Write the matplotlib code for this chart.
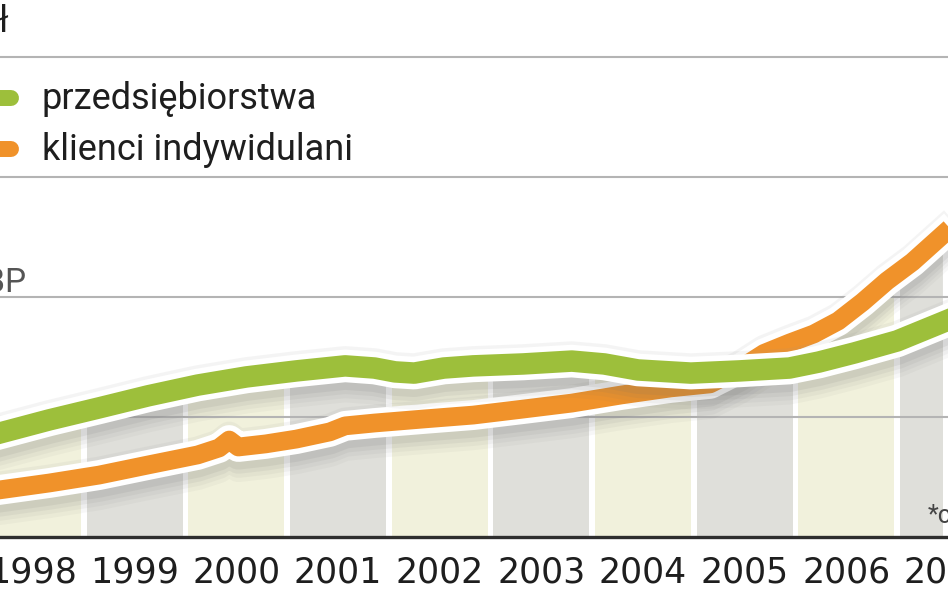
import numpy as np
import matplotlib
matplotlib.use("Agg")
import matplotlib.pyplot as plt
import matplotlib.patheffects as pe
from matplotlib.patches import Polygon
from matplotlib.lines import Line2D

# Kredyty (mld zl)
green_t = [1998.10, 1998.66, 1999.15, 1999.63, 2000.12, 2000.60, 2001.09, 2001.57,
           2001.86, 2002.06, 2002.25, 2002.54, 2002.83, 2003.32, 2003.80, 2004.12,
           2004.45, 2004.97, 2005.45, 2005.94, 2006.23, 2006.58, 2007.00, 2007.45]
green_v = [42.5, 48.8, 53.8, 58.8, 63.3, 66.7, 69.2, 71.3,
           70.4, 68.8, 68.3, 70.4, 71.3, 72.1, 73.3, 72.1,
           69.6, 68.3, 69.2, 70.4, 72.9, 76.7, 81.7, 89.5]

orange_t = [1998.10, 1998.66, 1999.15, 1999.63, 2000.12, 2000.33, 2000.43, 2000.52,
            2000.79, 2001.09, 2001.42, 2001.57, 2001.86, 2002.35, 2002.83, 2003.32,
            2003.80, 2004.29, 2004.77, 2005.16, 2005.45, 2005.69, 2005.94, 2006.18,
            2006.42, 2006.66, 2006.90, 2007.15, 2007.45]
orange_v = [19.2, 22.5, 25.8, 30.0, 34.2, 37.1, 40.4, 37.5,
            38.8, 40.8, 43.8, 46.3, 47.5, 49.2, 50.8, 53.3,
            55.8, 59.2, 62.1, 63.8, 70.0, 76.5, 80.8, 84.6,
            90.0, 97.9, 106.7, 114.6, 126.0]

years = [1998, 1999, 2000, 2001, 2002, 2003, 2004, 2005, 2006, 2007]
year_labels = [str(y) for y in years]
grid_vals = [50, 100, 150, 200]

GREEN = "#9dbf3b"
ORANGE = "#f0922a"
CREAM = "#f1f1dc"
GRAY = "#dfdfda"

W, H = 948, 593
fig = plt.figure(figsize=(W / 100, H / 100), dpi=100)
fig.patch.set_facecolor("white")
ax = fig.add_axes([0, (H - 537) / H, 1, 537 / H])
ax.set_xlim(1998.1756, 2007.3705)
ax.set_ylim(0, 537 * 50 / 120)
ax.set_facecolor("white")
for s in ["top", "right", "left"]:
    ax.spines[s].set_visible(False)
ax.spines["bottom"].set_color("#2e2e2e")
ax.spines["bottom"].set_linewidth(2.4)
ax.spines["bottom"].set_zorder(10)
ax.set_yticks([])

# kolumny lat, przyciete do obszaru pod krzywymi
col_colors = [CREAM if i % 2 == 0 else GRAY for i in range(len(years))]
for tt, vv in [(green_t, green_v), (orange_t, orange_v)]:
    poly = Polygon(list(zip(tt, vv)) + [(tt[-1], 0), (tt[0], 0)],
                   closed=True, transform=ax.transData, facecolor="none", edgecolor="none")
    ax.add_patch(poly)
    bars = ax.bar([y + 0.5 for y in years], 300, width=0.945, color=col_colors, zorder=1)
    for b in bars:
        b.set_clip_path(poly)

for g in grid_vals:
    ax.axhline(g, color="#b4b4b4", lw=1.5, zorder=2)

def band_effects(lw):
    eff = []
    for d, a in [(15, 0.05), (12, 0.06), (9, 0.08), (6, 0.10)]:
        eff.append(pe.SimpleLineShadow(offset=(0, -d), shadow_color="#6e6e6e",
                                       alpha=a, linewidth=lw + 7))
    eff.append(pe.SimpleLineShadow(offset=(0, 3), shadow_color="#9a9a9a",
                                   alpha=0.10, linewidth=lw + 7))
    eff.append(pe.Stroke(linewidth=lw + 8, foreground="white"))
    eff.append(pe.Normal())
    return eff

ax.plot(orange_t, orange_v, color=ORANGE, lw=13.5, solid_joinstyle="round",
        path_effects=band_effects(13.5), zorder=4)
ax.plot(green_t, green_v, color=GREEN, lw=15.5, solid_joinstyle="round",
        path_effects=band_effects(15.5), zorder=5)

ax.set_xticks([y + 0.5 for y in years])
ax.set_xticklabels(year_labels, fontsize=25, family="DejaVu Sans", color="#1e1e1e")
ax.tick_params(axis="x", length=0, pad=13)

# legenda
def px(x, y):
    return x / W, 1 - y / H

for yy, col in [(98, GREEN), (149, ORANGE)]:
    (x0, y0), (x1, _) = px(-20, yy), px(11, yy)
    fig.add_artist(Line2D([x0, x1], [y0, y0], color=col, lw=11.5, solid_capstyle="round",
                          transform=fig.transFigure))
fig.text(*px(42, 99), "przedsiębiorstwa", fontsize=26, family="Roboto",
         color="#1e1e1e", va="center", ha="left")
fig.text(*px(42, 150), "klienci indywidulani", fontsize=26, family="Roboto",
         color="#1e1e1e", va="center", ha="left")

fig.text(*px(9, 22), "mld zł", fontsize=26, family="Roboto", color="#1e1e1e",
         va="center", ha="right")
fig.text(*px(26, 283), "Źródło: NBP", fontsize=24, family="Roboto", color="#555555",
         va="center", ha="right")
fig.text(*px(928, 516), "*czerwiec", fontsize=18, family="Roboto", color="#444444",
         va="center", ha="left")

fig.savefig("out.png", dpi=100)
